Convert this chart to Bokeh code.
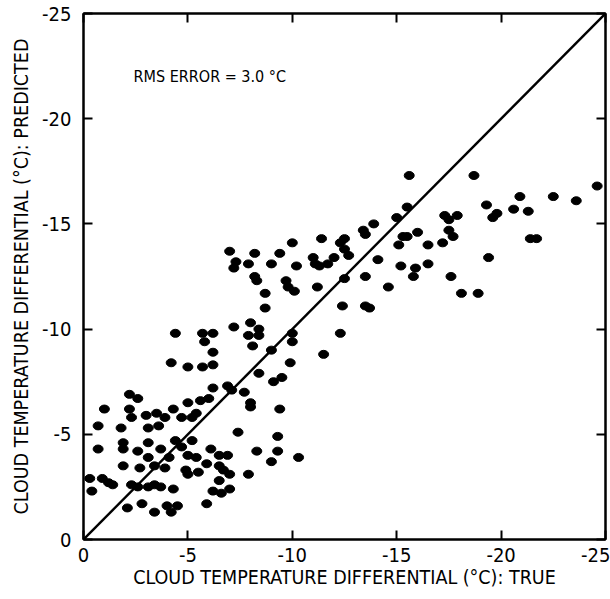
from bokeh.plotting import figure
from bokeh.models import Range1d, FixedTicker, LinearAxis, Label, ColumnDataSource
from bokeh.embed import file_html
from bokeh.resources import INLINE

# --- data ---
true_vals = [
    -4.4, -5.7, -6.2, -5.8, -6.2, -4.2, -5.0, -5.7, -6.2, -2.2, -2.6, -1.0, -2.2, -3.0, -2.3,
    -3.5, -4.3, -5.0, -5.6, -6.0, -3.9, -4.7, -5.4,
    -0.7, -1.8, -3.1, -3.6, -5.2, -4.4, -5.2, -1.9, -3.1, -0.7, -1.9, -2.6, -3.7, -4.7, -6.1,
    -3.1, -4.1, -5.0, -5.4, -1.9, -2.7, -3.4, -3.9, -4.9, -5.0, -5.5, -5.9,
    -0.3, -0.9, -1.2, -1.4, -0.4, -2.3, -2.6, -3.1, -3.4, -3.7, -4.3, -6.2,
    -2.1, -2.8, -3.4, -4.0, -4.2, -4.5,
    -7.2, -8.0, -8.4, -7.9, -8.4, -8.1, -10.0, -10.0, -9.0, -11.5, -9.9, -8.4, -9.5, -9.1,
    -6.9, -7.1, -6.2, -7.7, -8.0, -8.0, -9.4, -8.7,
    -7.4, -9.3, -8.3, -9.3, -6.5, -6.9, -9.0, -10.3, -6.5, -6.7, -7.0, -7.9, -6.5, -6.6, -7.0, -5.9,
    -7.0, -8.2, -10.0, -11.4, -9.4, -7.3, -7.2, -7.9, -9.0, -10.2, -11.0, -11.1, -11.3, -11.7,
    -8.2, -8.3, -9.7, -9.8, -10.1, -11.2, -8.7,
    -15.5, -15.0, -13.9, -13.4, -13.5, -17.3, -17.5, -17.9, -17.5, -17.7, -17.2, -16.0, -15.3,
    -15.5, -16.5, -15.1, -12.5, -12.3, -12.5, -12.7, -12.0, -14.1, -15.2, -15.9, -16.5, -15.8,
    -17.6, -12.5, -13.5, -14.6, -12.4, -13.5, -13.7, -12.3,
    -18.7, -24.6, -20.9, -22.5, -23.6, -19.3, -20.6, -21.3, -19.8, -19.6, -21.4, -21.7, -19.4,
    -18.1, -18.9, -15.6,
]
predicted_vals = [
    -9.8, -9.8, -9.8, -9.4, -8.9, -8.4, -8.2, -8.2, -8.3, -6.9, -6.7, -6.2, -6.2, -5.9, -5.8,
    -6.0, -6.2, -6.5, -6.6, -6.7, -5.8, -5.8, -6.0,
    -5.4, -5.3, -5.3, -5.4, -5.8, -4.7, -4.7, -4.6, -4.6, -4.3, -4.3, -4.2, -4.3, -4.4, -4.3,
    -3.9, -3.9, -4.0, -3.9, -3.5, -3.4, -3.5, -3.4, -3.3, -3.1, -3.2, -3.6,
    -2.9, -2.9, -2.7, -2.6, -2.3, -2.6, -2.5, -2.5, -2.6, -2.5, -2.4, -2.3,
    -1.5, -1.7, -1.3, -1.6, -1.3, -1.6,
    -10.1, -10.3, -10.0, -9.7, -9.7, -9.2, -9.8, -9.4, -9.0, -8.8, -8.4, -7.9, -7.7, -7.5,
    -7.3, -7.1, -7.2, -7.0, -6.5, -6.3, -6.2, -11.0,
    -5.1, -4.9, -4.2, -4.2, -4.0, -4.0, -3.7, -3.9, -3.5, -3.3, -3.1, -3.1, -2.8, -2.2, -2.4, -1.7,
    -13.7, -13.6, -14.1, -14.3, -13.6, -13.2, -12.9, -13.1, -13.1, -13.0, -13.4, -13.1, -13.0, -13.1,
    -12.5, -12.3, -12.3, -12.0, -11.8, -12.0, -11.7,
    -15.8, -15.3, -15.0, -14.7, -14.5, -15.4, -15.2, -15.4, -14.7, -14.4, -14.1, -14.6, -14.4,
    -14.4, -14.0, -14.0, -14.3, -14.1, -13.8, -13.5, -13.4, -13.3, -13.0, -12.9, -13.1, -12.5,
    -12.5, -12.4, -12.5, -12.0, -11.1, -11.1, -11.0, -9.8,
    -17.3, -16.8, -16.3, -16.3, -16.1, -15.9, -15.7, -15.6, -15.5, -15.3, -14.3, -14.3, -13.4,
    -11.7, -11.7, -17.3,
]
tick_values = [0, -5, -10, -15, -20, -25]
tick_labels = ["0", "-5", "-10", "-15", "-20", "-25"]
axis_limits = [0, -25]
annotation_text = "RMS ERROR = 3.0 \u00b0C"
annotation_pos = (-2.4, -22.0)
x_title = "CLOUD TEMPERATURE DIFFERENTIAL (\u00b0C): TRUE"
y_title = "CLOUD TEMPERATURE DIFFERENTIAL (\u00b0C): PREDICTED"

FONT = "DejaVu Sans Condensed, Liberation Sans, sans-serif"

p = figure(width=610, height=599, output_backend="svg", toolbar_location=None,
           x_range=Range1d(axis_limits[0], axis_limits[1]),
           y_range=Range1d(axis_limits[0], axis_limits[1]),
           min_border_left=83, min_border_right=5, min_border_top=13, min_border_bottom=60)
p.background_fill_color = "white"
p.border_fill_color = "white"
p.grid.visible = False
p.outline_line_color = "black"
p.outline_line_width = 2

overrides = dict(zip(tick_values, tick_labels))
for ax in (p.xaxis[0], p.yaxis[0]):
    ax.ticker = FixedTicker(ticks=tick_values)
    ax.major_label_overrides = overrides
    ax.major_tick_in = 9
    ax.major_tick_out = 0
    ax.minor_tick_in = 0
    ax.minor_tick_out = 0
    ax.axis_line_width = 2
    ax.major_tick_line_width = 2
    ax.major_label_text_font = FONT
    ax.major_label_text_font_size = "20px"
    ax.major_label_text_color = "black"
    ax.axis_label_text_font = FONT
    ax.axis_label_text_font_size = "19.5px"
    ax.axis_label_text_font_style = "normal"
    ax.axis_label_text_color = "black"

p.xaxis[0].axis_label = x_title
p.xaxis[0].major_label_standoff = 8
p.xaxis[0].axis_label_standoff = 1
p.yaxis[0].axis_label = y_title
p.yaxis[0].major_label_standoff = 12
p.yaxis[0].axis_label_standoff = 6

for loc in ("above", "right"):
    ax = LinearAxis(ticker=FixedTicker(ticks=tick_values))
    ax.major_tick_in = 9
    ax.major_tick_out = 0
    ax.minor_tick_in = 0
    ax.minor_tick_out = 0
    ax.major_tick_line_width = 2
    ax.axis_line_width = 2
    ax.major_label_text_font_size = "1px"
    ax.major_label_text_color = None
    ax.major_label_standoff = 0
    p.add_layout(ax, loc)

# diagonal 1:1 line
p.line(x=axis_limits, y=axis_limits, line_color="black", line_width=2.4)

src = ColumnDataSource(dict(x=true_vals, y=predicted_vals))
p.ellipse(x="x", y="y", width=10, height=8, width_units="screen", height_units="screen",
          source=src, fill_color="black", line_color="black")

p.add_layout(Label(x=annotation_pos[0], y=annotation_pos[1], text=annotation_text,
                   text_font=FONT, text_font_size="16px", text_color="black",
                   text_baseline="middle", text_align="left"))

open("out.html", "w").write(file_html(p, INLINE))
